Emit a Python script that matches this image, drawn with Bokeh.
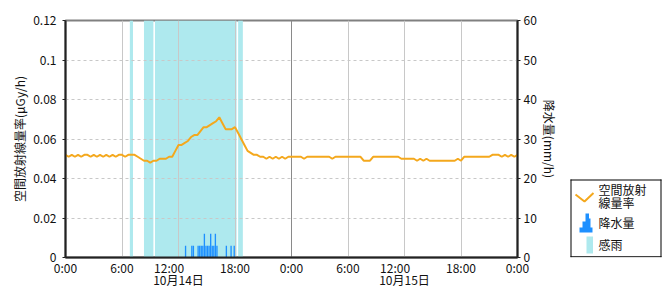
from bokeh.plotting import figure
from bokeh.models import Range1d, LinearAxis, FixedTicker, NumeralTickFormatter, Grid
from bokeh.layouts import row
from bokeh.core.properties import value
from bokeh.embed import file_html
from bokeh.resources import INLINE

# ---------------- data ----------------
# x tick positions (hours from 10/14 0:00) and their labels
x_ticks = [0, 6, 12, 18, 24, 30, 36, 42, 48]
x_tick_labels = ["0:00", "6:00", "12:00       ", "18:00", "0:00", "6:00",
                 "12:00       ", "18:00", "0:00"]
date_ticks = [12, 36]
date_labels = ["10月14日", "10月15日"]
dose_ticks = [0, 0.02, 0.04, 0.06, 0.08, 0.1, 0.12]
rain_ticks = [0, 10, 20, 30, 40, 50, 60]

# air dose rate (μGy/h), every 20 minutes from 10/14 0:00 to 10/16 0:00
dose_rate = [
    0.052, 0.051, 0.052,  0.051, 0.052, 0.051,  0.052, 0.052, 0.051,  0.052, 0.051, 0.052,
    0.051, 0.052, 0.051,  0.052, 0.051, 0.052,  0.052, 0.051, 0.052,  0.052, 0.052, 0.051,
    0.050, 0.049, 0.049,  0.048, 0.049, 0.049,  0.050, 0.050, 0.050,  0.051, 0.051, 0.054,
    0.057, 0.057, 0.058,  0.059, 0.061, 0.062,  0.062, 0.064, 0.066,  0.066, 0.067, 0.068,
    0.069, 0.071, 0.068,  0.065, 0.065, 0.065,  0.066, 0.063, 0.060,  0.057, 0.054, 0.053,
    0.052, 0.052, 0.051,  0.051, 0.050, 0.051,  0.050, 0.051, 0.050,  0.051, 0.050, 0.051,
    0.051, 0.051, 0.051,  0.051, 0.050, 0.051,  0.051, 0.051, 0.051,  0.051, 0.051, 0.051,
    0.051, 0.050, 0.051,  0.051, 0.051, 0.051,  0.051, 0.051, 0.051,  0.051, 0.051, 0.049,
    0.049, 0.049, 0.051,  0.051, 0.051, 0.051,  0.051, 0.051, 0.051,  0.051, 0.051, 0.050,
    0.050, 0.050, 0.050,  0.050, 0.049, 0.050,  0.049, 0.050, 0.049,  0.049, 0.049, 0.049,
    0.049, 0.049, 0.049,  0.049, 0.049, 0.050,  0.049, 0.051, 0.051,  0.051, 0.051, 0.051,
    0.051, 0.051, 0.051,  0.051, 0.052, 0.052,  0.052, 0.051, 0.052,  0.051, 0.052, 0.051,
    0.052,
]
dose_step_minutes = 20

# precipitation (mm/h), 10-minute intervals on 10/14 (interval start times)
rain_times = ["12:40", "13:20", "13:30", "14:00", "14:10", "14:20", "14:30", "14:40", "14:50",
              "15:00", "15:10", "15:20", "15:30", "15:40", "15:50", "16:00", "17:00", "17:30", "17:50"]
rain_mm = [3, 3, 3, 3, 3, 3, 3, 6, 3, 3, 3, 6, 3, 3, 6, 3, 3, 3, 3]
rain_interval_minutes = 10

# rain sensing (感雨) periods on 10/14
sense_start = ["06:50", "08:20", "09:30", "18:20"]
sense_end = ["07:10", "09:20", "18:10", "18:50"]

# legend labels
legend_labels = ["空間放射", "線量率", "降水量", "感雨"]

# ---------------- styling ----------------
FONT = "Noto Sans CJK JP"
ORANGE = "#f4a81d"
CYAN = "#aee9ee"
BLUE = "#1e90ff"
TXT = "#111111"
MAIN_W, LEG_W, H = 560, 110, 300
BORDER_L, BORDER_R, BORDER_T, BORDER_B = 65, 41, 20, 43


def hm(s):
    h, m = s.split(":")
    return int(h) + int(m) / 60.0


dose_x = [i * dose_step_minutes / 60.0 for i in range(len(dose_rate))]
rain_x = [hm(t) + rain_interval_minutes / 120.0 for t in rain_times]
band_l = [hm(t) for t in sense_start]
band_r = [hm(t) for t in sense_end]

p = figure(width=MAIN_W, height=H,
           min_border_left=BORDER_L, min_border_right=BORDER_R,
           min_border_top=BORDER_T, min_border_bottom=BORDER_B,
           x_range=Range1d(0, 48), y_range=Range1d(0, 0.12),
           toolbar_location=None, output_backend="svg")
p.extra_y_ranges = {"rain": Range1d(0, 60)}
p.background_fill_color = "white"
p.border_fill_color = "white"
p.outline_line_color = "#808080"
p.outline_line_width = 2

# rain sensing bands (below the grid)
p.quad(left=band_l, right=band_r, bottom=0, top=0.12, fill_color=CYAN, line_color=None,
       level="image")

# grids
p.xgrid.ticker = FixedTicker(ticks=[t for t in x_ticks if t not in (0, 24, 48)])
p.xgrid.grid_line_color = "#c8c8c8"
p.ygrid.ticker = FixedTicker(ticks=dose_ticks[1:-1])
p.ygrid.grid_line_color = "#c8c8c8"
p.ygrid.grid_line_dash = "3 3"
p.add_layout(Grid(dimension=0, ticker=FixedTicker(ticks=[24]), grid_line_color="#8a8a8a",
                  grid_line_width=1))

# precipitation bars
p.vbar(x=rain_x, top=rain_mm, bottom=0, width=rain_interval_minutes / 60.0 * 0.85,
       fill_color=BLUE, line_color=None, y_range_name="rain")

# dose rate line
p.line(x=dose_x, y=dose_rate, line_color=ORANGE, line_width=2)

# axes
xa = p.xaxis[0]
xa.ticker = FixedTicker(ticks=x_ticks)
xa.major_label_overrides = {t: lab for t, lab in zip(x_ticks, x_tick_labels)}
xa.minor_tick_line_color = None
xa.major_tick_out = 0
xa.major_tick_in = 0
xa.major_label_standoff = 1
xa.axis_line_color = "#222222"
xa.axis_line_width = 2

da = LinearAxis(ticker=FixedTicker(ticks=date_ticks))
da.major_label_overrides = {t: lab for t, lab in zip(date_ticks, date_labels)}
da.axis_line_color = None
da.major_tick_line_color = None
da.minor_tick_line_color = None
da.major_tick_out = 0
da.major_tick_in = 0
da.major_label_standoff = -8
p.add_layout(da, "below")

ya = p.yaxis[0]
ya.ticker = FixedTicker(ticks=dose_ticks)
ya.formatter = NumeralTickFormatter(format="0.[00]")
ya.minor_tick_line_color = None
ya.major_tick_out = 3
ya.major_tick_in = 0
ya.major_label_standoff = 6
ya.axis_line_color = "#222222"
ya.axis_line_width = 2
ya.axis_label = "空間放射線量率(μGy/h)"
ya.axis_label_standoff = 2

ra = LinearAxis(y_range_name="rain", ticker=FixedTicker(ticks=rain_ticks))
ra.minor_tick_line_color = None
ra.major_tick_out = 3
ra.major_tick_in = 0
ra.major_label_standoff = 3
ra.axis_line_color = "#222222"
ra.axis_line_width = 2
ra.axis_label = "降水量(mm/h)"
ra.axis_label_standoff = 1
p.add_layout(ra, "right")

for ax in (xa, da, ya, ra):
    ax.major_label_text_font = FONT
    ax.major_label_text_font_size = "12px"
    ax.major_label_text_color = TXT
    ax.axis_label_text_font = FONT
    ax.axis_label_text_font_size = "12px"
    ax.axis_label_text_font_style = "normal"
    ax.axis_label_text_color = TXT
for ax in (xa, ya, ra):
    ax.major_tick_line_color = "#222222"

# ---------------- legend panel (its frame uses page pixel coordinates) ----------------
leg = figure(width=LEG_W, height=H,
             x_range=Range1d(MAIN_W, MAIN_W + LEG_W), y_range=Range1d(H - BORDER_B, BORDER_T),
             min_border_left=0, min_border_right=0,
             min_border_top=BORDER_T, min_border_bottom=BORDER_B,
             toolbar_location=None, output_backend="svg",
             x_axis_location=None, y_axis_location=None)
leg.grid.visible = False
leg.outline_line_color = None
leg.background_fill_color = "white"
leg.border_fill_color = "white"

# box edges (thin filled strips)
bl, br, bt, bb = 570, 661, 179, 256.8
leg.patches(xs=[[bl, br, br, bl], [bl, br, br, bl], [bl, bl + 1, bl + 1, bl], [br - 1, br, br, br - 1]],
            ys=[[bt, bt, bt + 1, bt + 1], [bb - 1, bb - 1, bb, bb], [bt, bt, bb, bb], [bt, bt, bb, bb]],
            fill_color="black", line_color=None)
# dose-rate icon (zigzag)
leg.line(x=[575, 584, 593], y=[194, 201, 192.5], line_color=ORANGE, line_width=2)
# precipitation icon (stepped bars)
leg.patch(x=[579, 579, 582, 582, 585, 585, 588.5, 588.5, 590, 590, 592, 592],
          y=[232, 227, 227, 221, 221, 213, 213, 218, 218, 227, 227, 232],
          fill_color=BLUE, line_color=None)
# rain-sensing icon
leg.patch(x=[586, 592.5, 592.5, 586], y=[236, 236, 253, 253], fill_color=CYAN, line_color=None)
leg.text(x=[598, 598, 598, 598], y=[189, 202, 222, 244], text=legend_labels,
         text_font=value(FONT), text_font_size="12px", text_baseline="middle",
         text_align="left", text_color=TXT)

layout = row(p, leg)
open("out.html", "w").write(file_html(layout, INLINE))
